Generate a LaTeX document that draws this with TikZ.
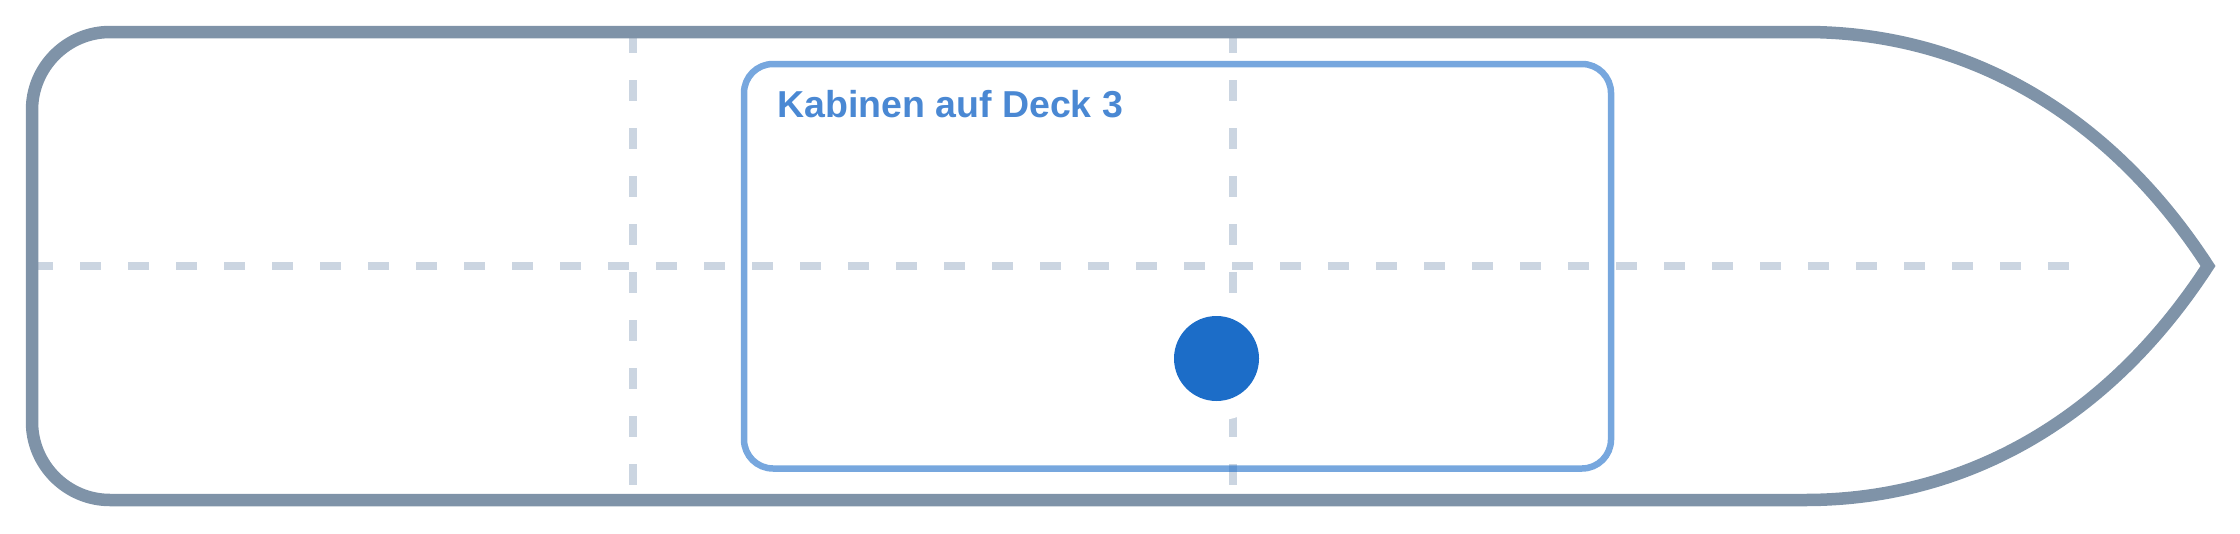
\documentclass[tikz,border=0pt]{standalone}
\usepackage{fontspec}
\setmainfont{Liberation Sans}
\definecolor{hullc}{HTML}{7F93A8}
\definecolor{gridc}{HTML}{CBD5E1}
\definecolor{dotc}{HTML}{1C6DC8}
\definecolor{labelc}{HTML}{4A88D3}
\begin{document}
\begin{tikzpicture}[x=1pt,y=-1pt,
  hullline/.style={draw=hullc,line width=12.5pt,line join=miter},
  gridline/.style={draw=gridc,line width=7.5pt,dash pattern=on 21pt off 27pt},
  cabinbox/.style={draw=dotc,draw opacity=0.6,line width=6.5pt,rounded corners=29pt,
    minimum width=867pt,minimum height=404.5pt,inner sep=0pt,outer sep=0pt},
  cabinlabel/.style={font=\bfseries\fontsize{37.5}{44}\selectfont,text=labelc,inner sep=0pt},
  dotmark/.style={circle,fill=dotc,minimum size=85pt,inner sep=0pt}]
\useasboundingbox (0,0) rectangle (2240,533);
% grid lines
\coordinate (va1) at (633,32);
\coordinate (vb1) at (633,500);
\coordinate (va2) at (1233,32);
\coordinate (vb2) at (1233,500);
\coordinate (ha) at (32,266);
\coordinate (hb) at (2070,266);
\draw[gridline] (va1) -- (vb1);
\draw[gridline] (va2) -- (vb2);
\draw[gridline] (ha) -- (hb);
% halo behind the dot
\fill[white] (1216.5,358.5) circle (62pt);
% cabin area
\node[cabinbox,anchor=north west] (cabin) at (744,64) {};
% hull
\coordinate (tl) at (110,32);
\coordinate (tr) at (1805,32);
\coordinate (bow) at (2208,266);
\coordinate (br) at (1805,500);
\coordinate (bl) at (110,500);
\draw[hullline] (tl) -- (tr) .. controls (1965,32) and (2108,112) .. (bow)
  .. controls (2108,420) and (1965,500) .. (br) -- (bl)
  .. controls (67,500) and (32,465) .. (32,422) -- (32,110)
  .. controls (32,67) and (67,32) .. (tl) -- cycle;
% label and position marker
\node[cabinlabel,anchor=base west] (label) at (777,117.7) {Kabinen auf Deck 3};
\node[dotmark] (dot) at (1216.5,358.5) {};
\end{tikzpicture}
\end{document}
